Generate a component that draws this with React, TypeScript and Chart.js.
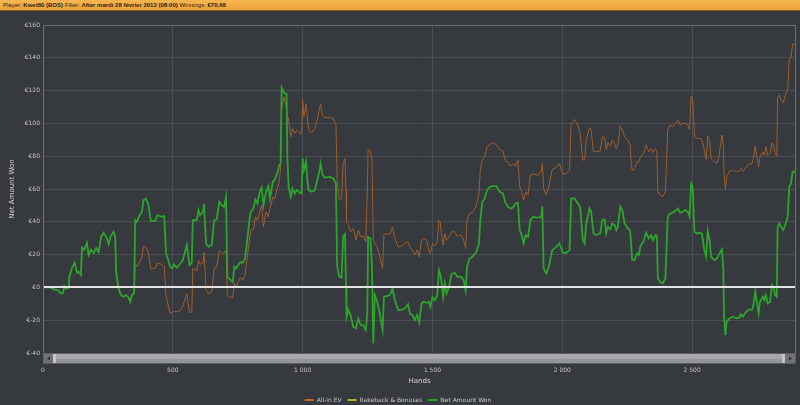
import { useEffect, useRef } from "react";
import { Chart, registerables } from "chart.js";

Chart.register(...registerables);

// ---- data ----
const HANDS = [
  0, 28, 41, 60, 69, 77, 82, 90, 99, 102, 111, 122, 131, 137, 146, 150, 160, 169, 176, 185,
  195, 205, 214, 224, 233, 243, 253, 260, 272, 278, 282, 291, 300, 310, 320, 329, 336, 342, 351, 355,
  361, 372, 381, 387, 397, 406, 415, 432, 441, 457, 467, 474, 490, 497, 505, 515, 528, 538, 554, 564,
  573, 577, 592, 599, 605, 616, 620, 628, 637, 650, 659, 669, 679, 688, 697, 705, 710, 720, 731, 737,
  743, 752, 761, 769, 778, 785, 795, 800, 810, 818, 826, 833, 842, 849, 859, 868, 874, 885, 893, 902,
  910, 915, 919, 928, 938, 941, 946, 954, 961, 970, 977, 990, 996, 1000, 1005, 1013, 1018, 1023, 1035, 1047,
  1056, 1064, 1069, 1077, 1086, 1105, 1118, 1128, 1133, 1141, 1150, 1156, 1163, 1167, 1169, 1175, 1184, 1195, 1205, 1214,
  1223, 1233, 1243, 1249, 1252, 1261, 1267, 1272, 1278, 1287, 1297, 1308, 1313, 1323, 1336, 1346, 1355, 1368, 1381, 1393,
  1406, 1413, 1423, 1432, 1441, 1449, 1458, 1466, 1477, 1487, 1492, 1500, 1509, 1518, 1525, 1530, 1534, 1541, 1547, 1554,
  1564, 1573, 1586, 1595, 1611, 1620, 1628, 1633, 1643, 1656, 1669, 1679, 1684, 1692, 1701, 1710, 1720, 1730, 1746, 1759,
  1771, 1782, 1791, 1800, 1810, 1820, 1829, 1836, 1842, 1851, 1859, 1868, 1877, 1887, 1906, 1919, 1923, 1928, 1938, 1948,
  1961, 1977, 1989, 2002, 2015, 2028, 2034, 2047, 2060, 2069, 2079, 2086, 2092, 2105, 2111, 2120, 2130, 2146, 2154, 2163,
  2169, 2176, 2185, 2192, 2201, 2208, 2214, 2223, 2231, 2240, 2252, 2261, 2265, 2269, 2278, 2287, 2295, 2300, 2313, 2323,
  2333, 2342, 2349, 2359, 2364, 2368, 2377, 2387, 2397, 2406, 2415, 2426, 2436, 2445, 2454, 2464, 2474, 2483, 2490, 2496,
  2502, 2509, 2518, 2531, 2538, 2547, 2554, 2560, 2567, 2573, 2586, 2595, 2602, 2615, 2620, 2623, 2628, 2633, 2643, 2656,
  2672, 2682, 2688, 2695, 2708, 2718, 2731, 2736, 2743, 2749, 2756, 2761, 2772, 2778, 2784, 2791, 2800, 2808, 2813, 2820,
  2826, 2829, 2836, 2842, 2851, 2861, 2868, 2874, 2881, 2887, 2897,
];

const NET_AMOUNT_WON = [
  0, 0, -1.2, -2, -3.7, -3.3, 0.8, -0.8, 0, 6.5, 11.6, 15, 8.9, 9.5, 7.5, 24.4, 23, 27.2, 19.7, 23,
  21, 24, 21.5, 30.9, 33.3, 31, 26.4, 31, 33.9, 31, 8.9, -0.6, -4.7, -5.7, -4.7, -6.1, -8.8, -4.7, -3.7, 41,
  40, 44, 46, 53.2, 54, 50.2, 40.6, 40.6, 44, 43, 43.4, 20.7, 12.6, 11.6, 14, 12, 14.4, 16.5, 25.8, 13.6,
  15, 41, 41, 47.1, 44, 46, 50.8, 26.8, 24.8, 25.8, 41, 41.4, 52.2, 50.2, 49, 55.2, 6.5, 4.9, 3.5, 12.6,
  11.5, 13.6, 15.6, 15, 17.6, 26.8, 41, 46.1, 48.1, 53.6, 51.2, 57.3, 61, 50.2, 58.3, 61.7, 54.2, 64.4, 65.8, 69.5,
  74.6, 75.6, 121.9, 118.7, 117.9, 79.6, 61.3, 55.2, 60.3, 57.3, 59.3, 57.7, 57.3, 78.6, 71.5, 76.6, 65.4, 59.3, 58.3, 59.3,
  65.4, 70.5, 75.6, 68.5, 67, 67.4, 66.4, 63.4, 12.5, 6.4, 6, 30.8, 32.5, 0.4, -17.9, -13.5, -16.9, -24, -25, -19,
  -23, -23, -26, -15.9, 30.8, 29.8, 12.5, -34.2, -4.7, -8.8, -15.9, -26, -5.7, -5.3, -4.7, -0.7, -7.8, -13.9, -13.5, -12.9,
  -10.2, -15.9, -16.9, -20, -16.9, -21.6, -9.8, -8.8, -9.4, -8.8, -12, -6, -8, -5, 10.5, 8, 4.4, -5.7, 2.4, -3.7,
  0.4, 8.1, 8.9, 6.5, 6.5, 4.4, -2, 12.5, 17.6, 19, 21.7, 26.8, 41, 52.2, 54.2, 59.3, 61, 61.7, 61.7, 58.3,
  57.3, 51.2, 49.1, 48.1, 48.7, 51.2, 51.6, 34.9, 32.9, 26.8, 31.9, 30.8, 41, 43, 42.6, 43, 49.5, 11.5, 8.5, 12.5,
  22.7, 24.7, 26.8, 21.1, 21.1, 22.7, 54.2, 54.2, 51.2, 48.7, 28.8, 26.8, 39, 48.1, 46.1, 32.9, 31.9, 32.9, 41, 41.4,
  32.9, 36.9, 35.3, 39, 38, 34.9, 36.9, 49.2, 47.1, 39, 35.9, 34.9, 26.8, 16.6, 16.6, 20.7, 19.7, 24.8, 28.4, 33.3,
  29.8, 31.9, 28.8, 31.9, 31.3, 5.4, 3.4, 2.4, 5.4, 43.1, 45.1, 45.5, 46.7, 48.1, 45.5, 46.1, 47.1, 46.1, 43.1, 63.4,
  61.3, 33.9, 32.9, 33.3, 32.5, 22.7, 18.7, 34.5, 29.2, 18.7, 16.6, 17.6, 19.7, 23.1, 10.6, -17.9, -29.1, -21, -18.9, -17.9,
  -18.9, -18.3, -16.3, -17.9, -14.9, -13.5, -13.5, -10.8, -2.6, -8.8, -15.9, -8.8, -5.7, -7.8, -4.7, -9.8, -8.8, 1.4, 0.4, -4.7,
  -5.7, 36.9, 39, 36.9, 34.9, 39, 43.1, 61.3, 63.4, 70.5, 70.7,
];

const ALL_IN_EV = [
  0, 0, -1.2, -2, -3.7, -3.3, 0.8, -0.8, 0, 6.5, 11.6, 15, 8.9, 9.5, 7.5, 24.4, 23, 27.2, 19.7, 23,
  21, 24, 21.5, 30.9, 33.3, 31, 26.4, 31, 33.9, 31, 8.9, -0.6, -4.7, -5.7, -4.7, -6.1, -8.8, -4.7, -3.7, 14,
  12.6, 15.6, 18.7, 25, 24.5, 21, 11.6, 11.6, 15, 14, 12.6, -5.7, -16, -15, -14.8, -14.8, -14.2, -11.8, -3.7, -15.5,
  -15, 11.6, 10, 16.5, 14, 15, 21.6, -1.6, -3.7, -2.6, 11.6, 12.6, 22.3, 21, 21, 22.7, -4.7, -5.7, -6.5, 2.5,
  0, 3.4, 6, 4.4, 7.5, 16.6, 28.8, 34.9, 35.3, 43, 41, 45.1, 50.2, 36.9, 46.1, 43, 48.1, 54.8, 54.2, 60.3,
  64.4, 73.5, 108.1, 116.2, 109.1, 105, 102, 91.8, 96.9, 93.9, 95.9, 93.9, 93.5, 114.6, 104, 111.8, 104, 95.9, 94.3, 96.9,
  102, 108.1, 111.8, 104.4, 103.6, 103.6, 103, 99, 65.4, 53.2, 54.2, 75.6, 78.6, 59.3, 40, 39, 33.9, 35.9, 28.8, 34.9,
  30.8, 31.3, 27.8, 59.3, 83.7, 83.3, 77.6, 28.8, 26.8, 24.7, 18.6, 11.5, 32.5, 32.5, 32.5, 36.9, 29.8, 24.7, 25.2, 26.8,
  27.8, 24.7, 22.7, 19.7, 22.7, 18.6, 29.2, 29.8, 29.2, 21.7, 20.7, 26.8, 25.2, 27.8, 41, 40, 33, 25.8, 32.9, 28.8,
  30.8, 33.9, 33.9, 31.3, 31.9, 28.8, 23.7, 41, 45.1, 46.1, 50.2, 57.3, 71.5, 78, 79.6, 85.7, 87, 88.2, 87, 84,
  83.3, 76.6, 76.6, 73.9, 75.6, 73.9, 77.6, 61.3, 59.3, 53.2, 58.3, 56.3, 68.5, 69.1, 68.5, 71.1, 75.6, 60.3, 56.3, 61.3,
  71.9, 73.1, 75.6, 69.1, 69.5, 71.5, 100, 102.4, 99, 93.9, 77.6, 78, 89.8, 97.5, 95.9, 82.7, 82.7, 83.3, 91.8, 91.4,
  84.1, 88.2, 86.1, 89.8, 87.8, 84.7, 86.8, 98.3, 95.9, 91.8, 89.8, 87.4, 76.6, 71.5, 71.9, 76.6, 76.6, 79.2, 81.7, 86.8,
  82.7, 84.7, 82.1, 84.7, 82.7, 58.3, 56.3, 55.2, 58.3, 95.9, 99, 98, 100.4, 102, 99, 100, 100, 99, 96.3, 116.6,
  115.2, 91.8, 90.8, 90.8, 89.8, 83.7, 78, 92.2, 89.8, 78.6, 76.6, 75.6, 78.6, 92.9, 86.8, 69.5, 59.7, 67.4, 70.5, 71.5,
  70.5, 71.1, 72.5, 70.5, 73.5, 75.2, 75.6, 78.6, 86.2, 79.6, 73.5, 79.6, 82.7, 80.6, 85.7, 80.6, 81.7, 88.2, 86.8, 81.3,
  80.1, 116.2, 117.2, 114.2, 112.6, 118.3, 120.7, 139, 140.6, 148.4, 148.4,
];

const RAKEBACK_HANDS = [0, 2897];
const RAKEBACK_BONUSES = [0, 0];

const SERIES_NAMES = ["All-in EV", "Rakeback & Bonuses", "Net Amount Won"];
const HEADER_LABELS = ["Player:", "Filter:", "Winnings:"];
const HEADER_VALUES = ["Kwet80 (BOS)", "After mardi 28 février 2012 (08:00)", "€70,68"];
const X_TITLE = "Hands";
const Y_TITLE = "Net Amount Won";
const X_MIN = 0;
const X_MAX = 2900;
const X_TICKS = [0, 500, 1000, 1500, 2000, 2500];
const Y_MIN = -40;
const Y_MAX = 160;
const Y_STEP = 20;

const BG = "#36393d";
const FONT = "'DejaVu Sans', sans-serif";

const fmtHands = (v: number) => {
  if (v >= 1000) {
    const th = Math.floor(v / 1000);
    const rest = String(v % 1000).padStart(3, "0");
    return `${th} ${rest}`;
  }
  return String(v);
};

const toPoints = (xs: number[], ys: number[]) => xs.map((x, i) => ({ x, y: ys[i] }));

const decorPlugin = {
  id: "decor",
  afterDatasetsDraw(chart: any) {
    const { ctx, chartArea, scales } = chart;
    const y0 = Math.round(scales.y.getPixelForValue(0));
    ctx.save();
    ctx.strokeStyle = "#e4e4e4";
    ctx.lineWidth = 2;
    ctx.beginPath();
    ctx.moveTo(chartArea.left, y0);
    ctx.lineTo(chartArea.right, y0);
    ctx.stroke();
    ctx.restore();
  },
  afterDraw(chart: any) {
    const { ctx, chartArea } = chart;
    const { left, right, top, bottom } = chartArea;
    ctx.save();
    ctx.strokeStyle = "#6c6f73";
    ctx.lineWidth = 1;
    ctx.beginPath();
    ctx.moveTo(left + 0.5, bottom);
    ctx.lineTo(left + 0.5, top + 0.5);
    ctx.lineTo(right - 0.5, top + 0.5);
    ctx.lineTo(right - 0.5, bottom);
    ctx.stroke();
    // scrollbar
    const sy = bottom;
    const sh = 11;
    ctx.fillStyle = "#5b5e62";
    ctx.fillRect(left, sy, right - left, sh);
    ctx.fillStyle = "#707376";
    ctx.fillRect(left + 1, sy + 1, 9, sh - 2);
    ctx.fillRect(right - 11, sy + 1, 10, sh - 2);
    const tx0 = left + 10;
    const tx1 = right - 11;
    ctx.fillStyle = "#a7a9ab";
    ctx.fillRect(tx0, sy + 1, tx1 - tx0, 5);
    ctx.fillStyle = "#939597";
    ctx.fillRect(tx0, sy + 6, tx1 - tx0, sh - 7);
    ctx.fillStyle = "#c4c6c7";
    ctx.fillRect(tx0, sy + 1, 3, sh - 2);
    ctx.fillRect(tx1 - 3, sy + 1, 3, sh - 2);
    ctx.fillStyle = "#2a2c2e";
    const cy = sy + sh / 2;
    ctx.beginPath();
    ctx.moveTo(left + 4, cy);
    ctx.lineTo(left + 7, cy - 2);
    ctx.lineTo(left + 7, cy + 2);
    ctx.closePath();
    ctx.fill();
    ctx.beginPath();
    ctx.moveTo(right - 4, cy);
    ctx.lineTo(right - 7, cy - 2);
    ctx.lineTo(right - 7, cy + 2);
    ctx.closePath();
    ctx.fill();
    ctx.restore();
  },
};

export default function App() {
  const canvasRef = useRef<HTMLCanvasElement | null>(null);

  useEffect(() => {
    document.body.style.margin = "0";
    document.body.style.background = BG;
    const canvas = canvasRef.current;
    if (!canvas) return;
    const colors = ["#9e5f2c", "#b8ad2c", "#2ca52c"];
    const chart = new Chart(canvas, {
      type: "line",
      data: {
        datasets: [
          {
            label: SERIES_NAMES[0],
            data: toPoints(HANDS, ALL_IN_EV),
            borderColor: colors[0],
            backgroundColor: "#c0692b",
            borderWidth: 1,
            pointRadius: 0,
            order: 1,
          },
          {
            label: SERIES_NAMES[1],
            data: toPoints(RAKEBACK_HANDS, RAKEBACK_BONUSES),
            borderColor: colors[1],
            backgroundColor: colors[1],
            borderWidth: 1,
            pointRadius: 0,
            order: 2,
          },
          {
            label: SERIES_NAMES[2],
            data: toPoints(HANDS, NET_AMOUNT_WON),
            borderColor: colors[2],
            backgroundColor: "#22aa22",
            borderWidth: 1.8,
            pointRadius: 0,
            order: 0,
          },
        ],
      },
      options: {
        animation: false,
        responsive: false,
        layout: { padding: { top: 14, right: 4, left: 0, bottom: -8 } },
        scales: {
          x: {
            type: "linear",
            min: X_MIN,
            max: X_MAX,
            afterBuildTicks: (s: any) => {
              s.ticks = X_TICKS.map((v) => ({ value: v }));
            },
            afterFit: (s: any) => {
              s.height = 38;
            },
            ticks: {
              padding: 14,
              color: "#c4c4c4",
              font: { family: FONT, size: 6 },
              maxRotation: 0,
              autoSkip: false,
              callback: (v: any) => fmtHands(Number(v)),
            },
            grid: { color: "#4a4d51", drawTicks: false, lineWidth: 1 },
            border: { display: false },
            title: {
              display: true,
              text: X_TITLE,
              color: "#d8d8d8",
              font: { family: FONT, size: 7 },
              padding: { top: 0, bottom: 6 },
            },
          },
          y: {
            min: Y_MIN,
            max: Y_MAX,
            afterFit: (s: any) => {
              s.width = 43;
            },
            ticks: {
              stepSize: Y_STEP,
              padding: 3,
              color: "#c4c4c4",
              font: { family: FONT, size: 6 },
              callback: (v: any) => `€${v}`,
            },
            grid: { color: "#4a4d51", drawTicks: false, lineWidth: 1 },
            border: { display: false },
            title: {
              display: true,
              text: Y_TITLE,
              color: "#d8d8d8",
              font: { family: FONT, size: 7 },
              padding: { top: 8, bottom: 0 },
            },
          },
        },
        plugins: {
          tooltip: { enabled: false },
          legend: {
            position: "bottom",
            labels: {
              color: "#c8c8c8",
              font: { family: FONT, size: 6 },
              boxWidth: 9,
              boxHeight: 2,
              padding: 6,
              sort: (a: any, b: any) => a.datasetIndex - b.datasetIndex,
              generateLabels: (c: any) =>
                Chart.defaults.plugins.legend.labels
                  .generateLabels(c)
                  .map((l: any) => ({ ...l, lineWidth: 0 })),
            },
          },
        },
      },
      plugins: [decorPlugin],
    } as any);
    return () => chart.destroy();
  }, []);

  return (
    <div style={{ width: 800, height: 405, background: BG, position: "relative", overflow: "hidden" }}>
      <div
        style={{
          position: "absolute",
          left: 0,
          top: 0,
          width: 800,
          height: 11,
          background: "linear-gradient(#f7b550, #eda238)",
          borderBottom: "1px solid #8a5a1a",
          boxSizing: "border-box",
          fontFamily: "'Liberation Sans', sans-serif",
          fontSize: 6,
          lineHeight: "10px",
          color: "#2a2418",
          paddingLeft: 3,
          whiteSpace: "nowrap",
        }}
      >
        {HEADER_LABELS.map((l, i) => (
          <span key={l}>
            {l} <b>{HEADER_VALUES[i]}</b>{" "}
          </span>
        ))}
      </div>
      <canvas
        ref={canvasRef}
        width={800}
        height={394}
        style={{ position: "absolute", left: 0, top: 11, width: 800, height: 394 }}
      />
    </div>
  );
}
